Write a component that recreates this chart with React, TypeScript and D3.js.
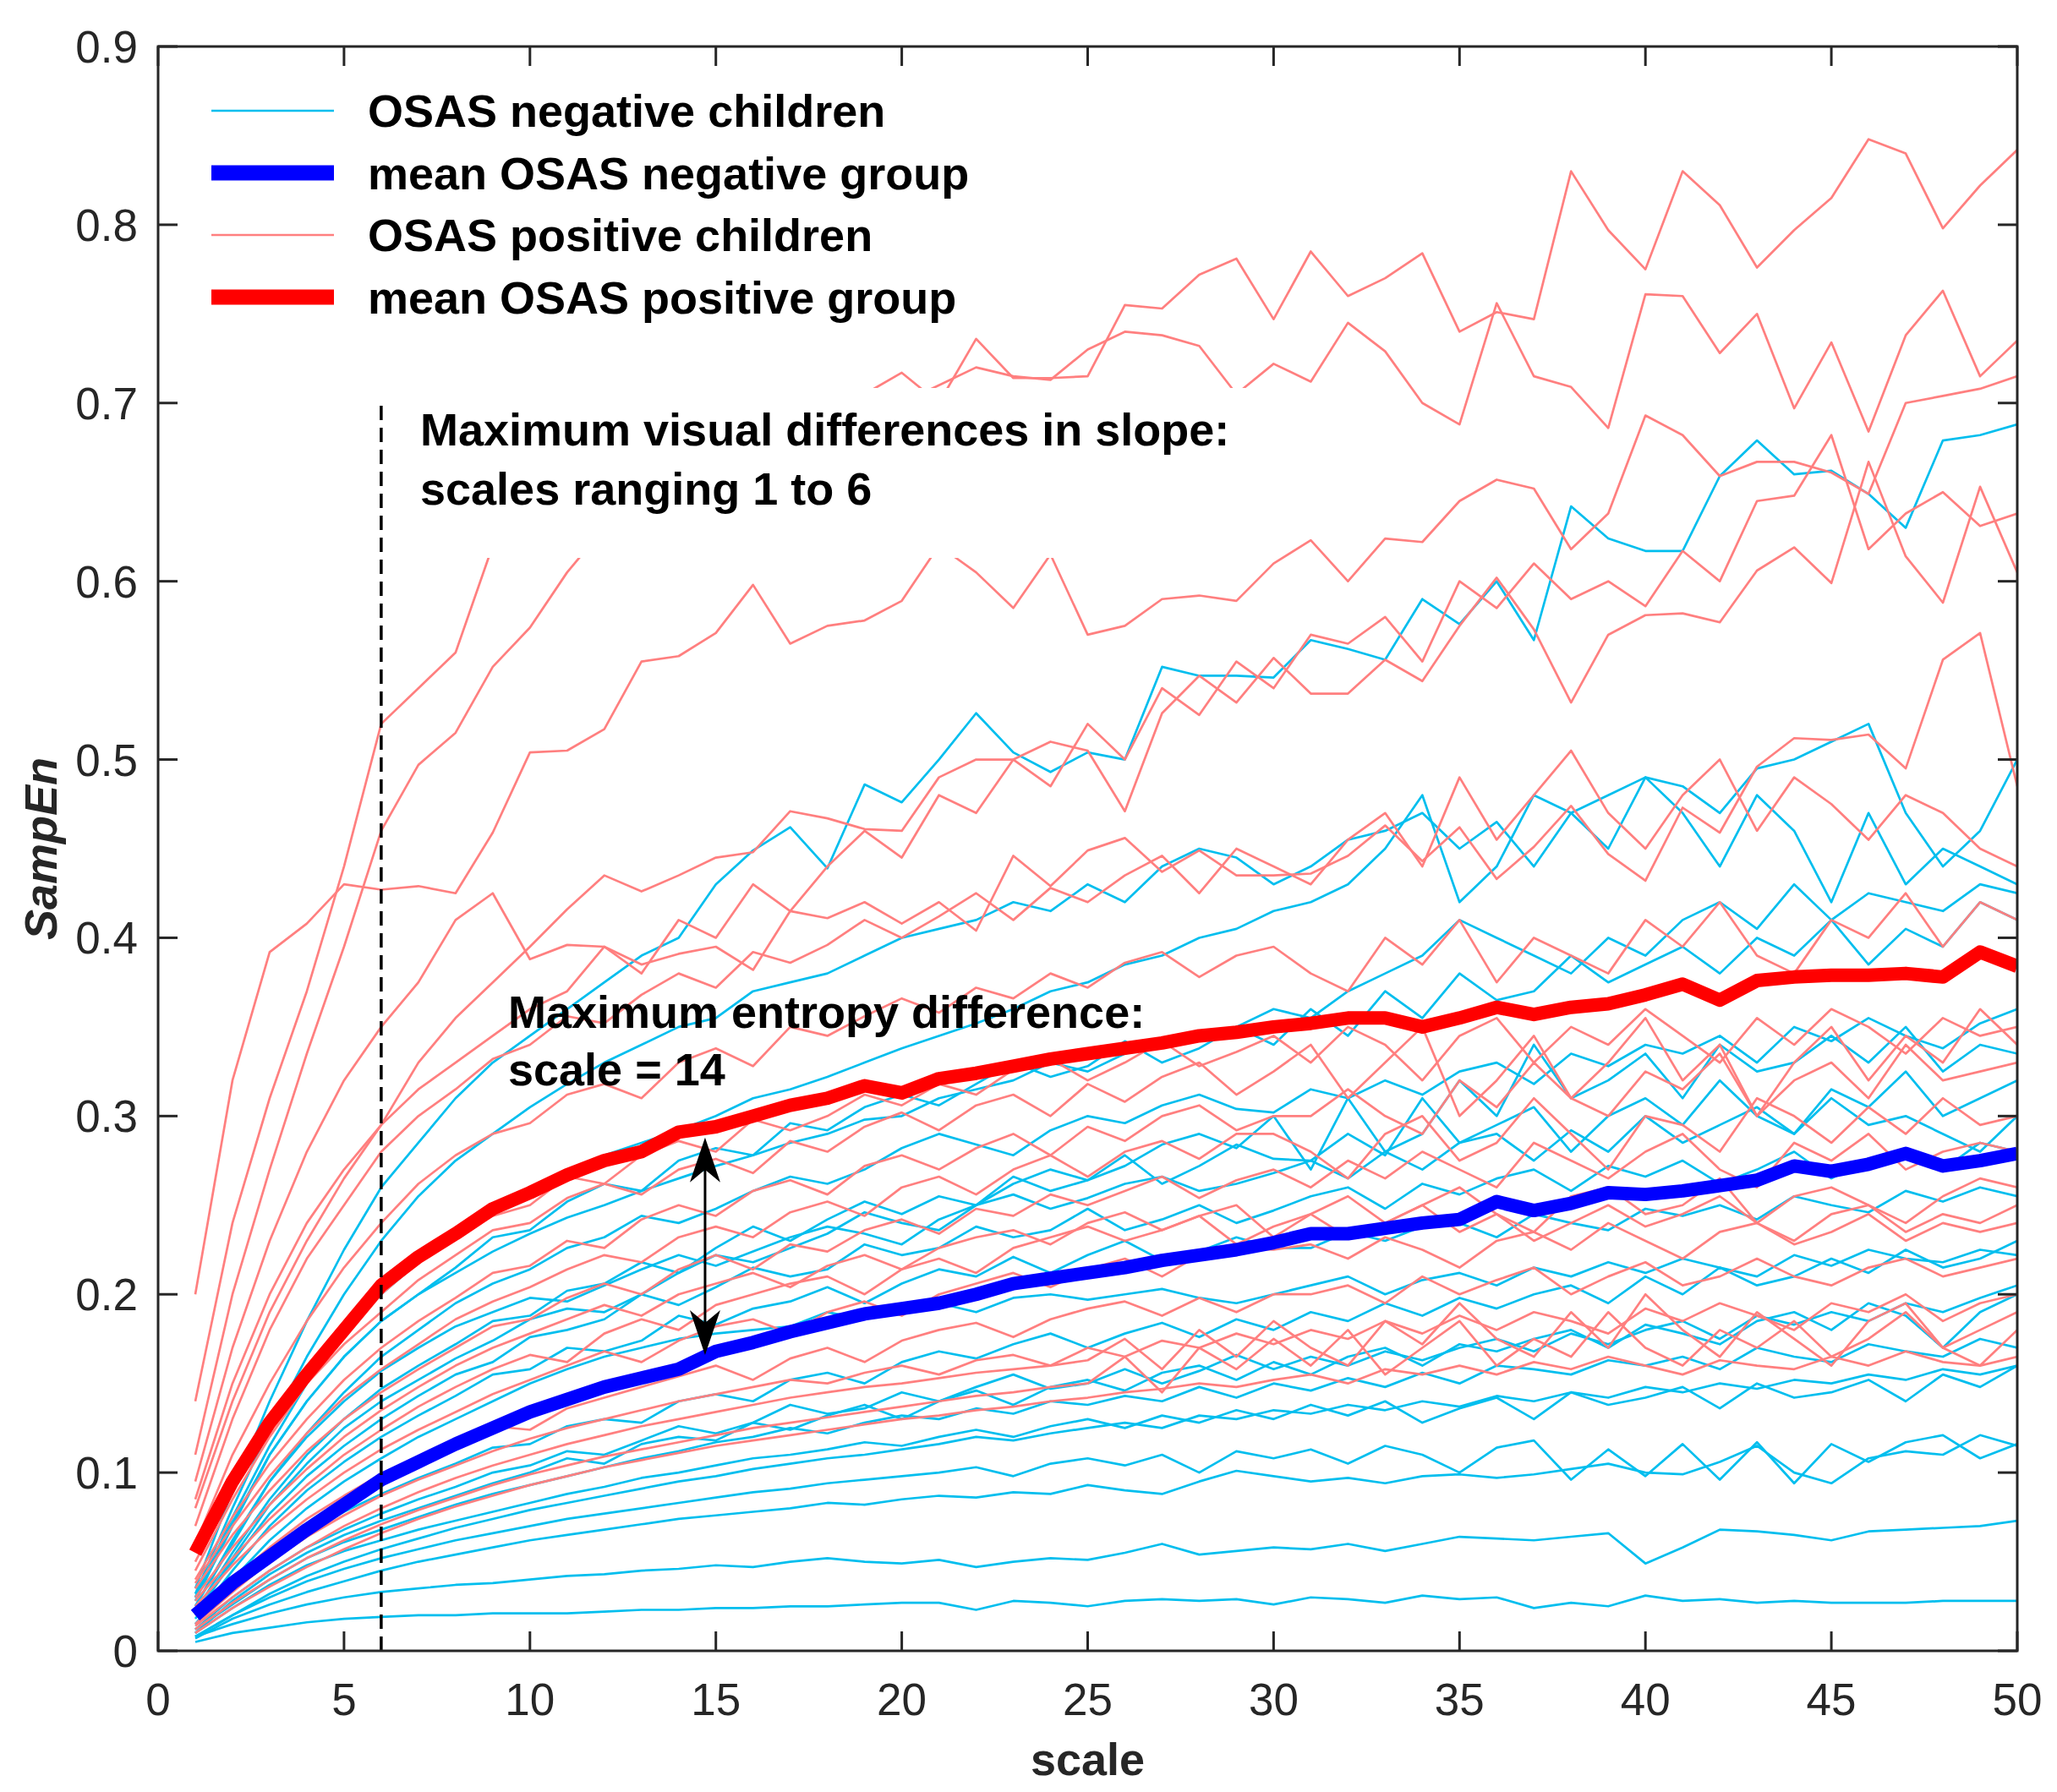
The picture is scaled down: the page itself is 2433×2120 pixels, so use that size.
import * as d3 from "d3";

// scales on the x axis
const scales = d3.range(1, 51);

// OSAS negative children (cyan)
const negChildren: number[][] = [
  [0.005,0.010,0.013,0.016,0.018,0.019,0.020,0.020,0.021,0.021,
   0.021,0.022,0.023,0.023,0.024,0.024,0.025,0.025,0.026,0.027,
   0.027,0.023,0.028,0.027,0.025,0.028,0.029,0.028,0.029,0.026,
   0.030,0.029,0.027,0.031,0.029,0.030,0.024,0.027,0.025,0.031,
   0.028,0.029,0.027,0.028,0.027,0.027,0.027,0.028,0.028,0.028],
  [0.008,0.015,0.021,0.026,0.030,0.033,0.035,0.037,0.038,0.040,
   0.042,0.043,0.045,0.046,0.048,0.047,0.050,0.052,0.050,0.049,
   0.051,0.047,0.050,0.052,0.051,0.055,0.060,0.054,0.056,0.058,
   0.057,0.060,0.056,0.060,0.064,0.063,0.062,0.064,0.066,0.049,
   0.058,0.068,0.067,0.065,0.062,0.067,0.068,0.069,0.070,0.073],
  [0.007,0.018,0.026,0.033,0.039,0.045,0.050,0.054,0.058,0.062,
   0.065,0.068,0.071,0.074,0.076,0.078,0.080,0.083,0.082,0.085,
   0.087,0.086,0.089,0.088,0.093,0.090,0.088,0.095,0.101,0.098,
   0.095,0.097,0.094,0.098,0.099,0.097,0.099,0.102,0.105,0.100,
   0.099,0.106,0.115,0.100,0.094,0.108,0.112,0.110,0.121,0.115],
  [0.008,0.020,0.030,0.039,0.046,0.052,0.057,0.062,0.066,0.070,
   0.074,0.077,0.080,0.083,0.086,0.089,0.091,0.094,0.096,0.098,
   0.100,0.103,0.098,0.105,0.108,0.104,0.110,0.100,0.112,0.108,
   0.113,0.105,0.115,0.110,0.100,0.114,0.118,0.096,0.113,0.098,
   0.116,0.096,0.117,0.094,0.116,0.106,0.117,0.121,0.108,0.116],
  [0.010,0.024,0.037,0.048,0.056,0.062,0.068,0.073,0.078,0.083,
   0.088,0.092,0.097,0.100,0.104,0.108,0.110,0.113,0.117,0.115,
   0.120,0.124,0.120,0.126,0.130,0.125,0.132,0.128,0.135,0.130,
   0.138,0.132,0.140,0.128,0.136,0.142,0.130,0.145,0.138,0.142,
   0.148,0.136,0.150,0.142,0.145,0.152,0.140,0.155,0.148,0.160],
  [0.012,0.026,0.040,0.052,0.061,0.068,0.075,0.082,0.088,0.093,
   0.098,0.103,0.108,0.112,0.117,0.120,0.125,0.122,0.128,0.132,
   0.130,0.136,0.133,0.140,0.138,0.143,0.140,0.148,0.142,0.150,
   0.146,0.153,0.148,0.156,0.150,0.160,0.158,0.155,0.163,0.160,
   0.165,0.158,0.170,0.165,0.162,0.172,0.168,0.165,0.175,0.170],
  [0.012,0.030,0.045,0.058,0.068,0.077,0.085,0.092,0.100,0.104,
   0.112,0.110,0.118,0.126,0.122,0.128,0.138,0.133,0.136,0.145,
   0.140,0.148,0.155,0.147,0.150,0.158,0.150,0.157,0.166,0.158,
   0.165,0.160,0.168,0.163,0.170,0.175,0.168,0.178,0.172,0.180,
   0.185,0.175,0.188,0.183,0.190,0.185,0.195,0.190,0.198,0.205],
  [0.015,0.040,0.062,0.080,0.095,0.108,0.120,0.130,0.140,0.150,
   0.158,0.165,0.170,0.175,0.178,0.180,0.182,0.190,0.186,0.192,
   0.195,0.190,0.198,0.200,0.197,0.200,0.203,0.198,0.195,0.200,
   0.205,0.210,0.200,0.208,0.212,0.205,0.215,0.210,0.218,0.212,
   0.220,0.215,0.210,0.222,0.216,0.225,0.220,0.218,0.225,0.222],
  [0.018,0.045,0.070,0.090,0.106,0.120,0.132,0.143,0.155,0.158,
   0.170,0.168,0.174,0.188,0.183,0.192,0.196,0.204,0.195,0.206,
   0.214,0.210,0.221,0.212,0.222,0.230,0.219,0.224,0.232,0.226,
   0.226,0.235,0.230,0.238,0.240,0.232,0.245,0.240,0.236,0.248,
   0.244,0.250,0.242,0.255,0.250,0.246,0.258,0.252,0.260,0.255],
  [0.020,0.050,0.077,0.098,0.115,0.130,0.143,0.155,0.162,0.176,
   0.180,0.186,0.200,0.194,0.204,0.215,0.210,0.214,0.228,0.222,
   0.226,0.238,0.232,0.236,0.248,0.236,0.242,0.250,0.240,0.247,
   0.255,0.260,0.248,0.262,0.256,0.265,0.270,0.258,0.272,0.266,
   0.275,0.262,0.270,0.280,0.265,0.275,0.282,0.270,0.285,0.280],
  [0.022,0.055,0.085,0.110,0.130,0.147,0.160,0.172,0.185,0.188,
   0.202,0.206,0.218,0.212,0.226,0.238,0.230,0.242,0.252,0.245,
   0.255,0.250,0.266,0.258,0.264,0.278,0.262,0.272,0.284,0.276,
   0.275,0.290,0.278,0.310,0.285,0.295,0.305,0.280,0.300,0.310,
   0.295,0.320,0.300,0.290,0.315,0.305,0.325,0.300,0.310,0.320],
  [0.025,0.060,0.095,0.122,0.145,0.165,0.180,0.195,0.206,0.214,
   0.226,0.232,0.244,0.240,0.248,0.258,0.266,0.262,0.270,0.282,
   0.290,0.284,0.278,0.292,0.300,0.296,0.306,0.312,0.304,0.302,
   0.315,0.310,0.320,0.312,0.325,0.330,0.318,0.335,0.328,0.340,
   0.335,0.345,0.330,0.350,0.342,0.355,0.345,0.338,0.352,0.360],
  [0.028,0.070,0.110,0.140,0.165,0.185,0.200,0.215,0.232,0.236,
   0.252,0.262,0.258,0.275,0.282,0.278,0.296,0.292,0.305,0.312,
   0.306,0.318,0.330,0.322,0.328,0.342,0.330,0.338,0.350,0.340,
   0.360,0.345,0.370,0.355,0.380,0.365,0.370,0.390,0.375,0.385,
   0.395,0.380,0.400,0.390,0.410,0.385,0.405,0.395,0.420,0.410],
  [0.030,0.075,0.115,0.150,0.178,0.200,0.218,0.232,0.245,0.258,
   0.268,0.278,0.285,0.292,0.300,0.310,0.315,0.322,0.330,0.338,
   0.345,0.352,0.360,0.370,0.375,0.385,0.390,0.400,0.405,0.415,
   0.420,0.430,0.450,0.480,0.420,0.440,0.480,0.470,0.450,0.490,
   0.470,0.440,0.480,0.460,0.420,0.470,0.430,0.450,0.440,0.430],
  [0.032,0.080,0.125,0.165,0.200,0.230,0.255,0.275,0.290,0.305,
   0.318,0.330,0.340,0.350,0.355,0.370,0.375,0.380,0.390,0.400,
   0.405,0.410,0.420,0.415,0.430,0.420,0.440,0.450,0.445,0.430,
   0.440,0.455,0.460,0.470,0.450,0.465,0.440,0.470,0.480,0.490,
   0.485,0.470,0.495,0.500,0.510,0.520,0.470,0.440,0.460,0.500],
  [0.035,0.090,0.140,0.185,0.225,0.260,0.285,0.310,0.330,0.345,
   0.360,0.375,0.390,0.400,0.430,0.449,0.462,0.439,0.486,0.476,
   0.500,0.526,0.504,0.493,0.504,0.500,0.552,0.547,0.547,0.546,
   0.567,0.562,0.556,0.590,0.576,0.600,0.567,0.642,0.624,0.617,
   0.617,0.659,0.679,0.660,0.662,0.649,0.630,0.679,0.682,0.688],
  [0.010,0.028,0.043,0.055,0.065,0.073,0.080,0.087,0.094,0.100,
   0.108,0.105,0.116,0.120,0.118,0.128,0.124,0.132,0.138,0.130,
   0.140,0.146,0.138,0.148,0.152,0.146,0.156,0.160,0.152,0.162,
   0.155,0.165,0.170,0.160,0.172,0.168,0.175,0.180,0.170,0.183,
   0.178,0.172,0.185,0.190,0.180,0.195,0.188,0.170,0.190,0.200],
  [0.025,0.062,0.095,0.120,0.140,0.157,0.170,0.182,0.190,0.198,
   0.196,0.205,0.214,0.222,0.216,0.224,0.232,0.238,0.234,0.228,
   0.242,0.250,0.256,0.248,0.254,0.262,0.266,0.258,0.262,0.268,
   0.275,0.265,0.280,0.270,0.285,0.290,0.275,0.292,0.280,0.300,
   0.285,0.295,0.305,0.290,0.310,0.295,0.300,0.290,0.280,0.300],
  [0.030,0.072,0.110,0.140,0.165,0.185,0.200,0.212,0.224,0.234,
   0.243,0.250,0.258,0.265,0.272,0.278,0.285,0.290,0.298,0.300,
   0.310,0.315,0.320,0.330,0.325,0.335,0.340,0.345,0.350,0.360,
   0.355,0.370,0.380,0.390,0.410,0.400,0.390,0.380,0.400,0.390,
   0.410,0.420,0.405,0.430,0.410,0.425,0.420,0.415,0.430,0.425],
  [0.020,0.052,0.082,0.105,0.125,0.140,0.152,0.164,0.174,0.186,
   0.192,0.190,0.200,0.212,0.222,0.218,0.226,0.234,0.246,0.240,
   0.236,0.250,0.262,0.270,0.264,0.272,0.284,0.290,0.282,0.300,
   0.270,0.310,0.280,0.290,0.320,0.300,0.340,0.310,0.320,0.335,
   0.310,0.340,0.325,0.330,0.345,0.330,0.350,0.325,0.340,0.335],
  [0.008,0.020,0.032,0.042,0.050,0.057,0.063,0.069,0.074,0.079,
   0.083,0.087,0.091,0.095,0.098,0.102,0.105,0.108,0.110,0.113,
   0.116,0.120,0.118,0.122,0.125,0.128,0.125,0.132,0.130,0.135,
   0.133,0.138,0.135,0.140,0.137,0.143,0.140,0.145,0.142,0.148,
   0.145,0.150,0.147,0.152,0.150,0.155,0.152,0.158,0.155,0.160],
  [0.015,0.035,0.052,0.066,0.078,0.088,0.097,0.105,0.114,0.116,
   0.126,0.130,0.128,0.140,0.144,0.140,0.152,0.156,0.150,0.162,
   0.168,0.164,0.172,0.178,0.170,0.178,0.184,0.176,0.186,0.180,
   0.190,0.185,0.195,0.188,0.198,0.192,0.200,0.205,0.195,0.210,
   0.200,0.215,0.205,0.210,0.220,0.212,0.225,0.215,0.220,0.230],
];

// OSAS positive children (salmon)
const posChildren: number[][] = [
  [0.200,0.320,0.392,0.408,0.430,0.427,0.429,0.425,0.459,0.504,
   0.505,0.517,0.555,0.558,0.571,0.598,0.565,0.575,0.578,0.589,
   0.620,0.605,0.585,0.615,0.570,0.575,0.590,0.592,0.589,0.610,
   0.623,0.600,0.624,0.622,0.645,0.657,0.652,0.618,0.638,0.693,
   0.682,0.659,0.667,0.667,0.661,0.649,0.700,0.704,0.708,0.715],
  [0.140,0.240,0.310,0.370,0.440,0.520,0.540,0.560,0.620,0.650,
   0.670,0.690,0.700,0.710,0.720,0.720,0.730,0.720,0.705,0.717,
   0.700,0.736,0.714,0.714,0.715,0.755,0.753,0.772,0.781,0.747,
   0.785,0.760,0.770,0.784,0.740,0.751,0.747,0.830,0.797,0.775,
   0.830,0.811,0.776,0.797,0.815,0.848,0.840,0.798,0.822,0.842],
  [0.110,0.200,0.270,0.335,0.395,0.460,0.497,0.515,0.552,0.574,
   0.605,0.630,0.650,0.660,0.665,0.670,0.680,0.685,0.690,0.700,
   0.710,0.720,0.715,0.713,0.730,0.740,0.738,0.732,0.705,0.722,
   0.712,0.745,0.729,0.700,0.688,0.756,0.715,0.709,0.686,0.761,
   0.760,0.728,0.750,0.697,0.734,0.684,0.738,0.763,0.715,0.735],
  [0.085,0.150,0.200,0.240,0.270,0.295,0.315,0.330,0.345,0.360,
   0.370,0.395,0.380,0.410,0.400,0.430,0.415,0.440,0.460,0.445,
   0.480,0.470,0.500,0.485,0.520,0.500,0.540,0.525,0.555,0.540,
   0.570,0.565,0.580,0.555,0.600,0.585,0.610,0.590,0.600,0.586,
   0.617,0.600,0.645,0.648,0.682,0.618,0.638,0.650,0.631,0.638],
  [0.095,0.170,0.230,0.280,0.320,0.350,0.375,0.410,0.425,0.388,
   0.396,0.395,0.385,0.391,0.395,0.382,0.415,0.411,0.420,0.408,
   0.420,0.404,0.446,0.429,0.449,0.456,0.437,0.449,0.435,0.435,
   0.436,0.446,0.463,0.443,0.462,0.433,0.451,0.474,0.447,0.432,
   0.473,0.459,0.496,0.512,0.511,0.514,0.495,0.556,0.571,0.485],
  [0.080,0.140,0.190,0.230,0.265,0.295,0.330,0.355,0.375,0.395,
   0.416,0.435,0.426,0.435,0.445,0.448,0.471,0.467,0.461,0.460,
   0.490,0.500,0.500,0.510,0.505,0.471,0.526,0.547,0.532,0.557,
   0.537,0.537,0.556,0.544,0.575,0.602,0.573,0.532,0.570,0.581,
   0.582,0.577,0.606,0.619,0.599,0.667,0.614,0.588,0.653,0.605],
  [0.070,0.130,0.180,0.220,0.250,0.280,0.300,0.315,0.332,0.340,
   0.356,0.352,0.368,0.380,0.372,0.392,0.386,0.396,0.410,0.400,
   0.412,0.425,0.410,0.428,0.420,0.435,0.446,0.425,0.450,0.440,
   0.430,0.455,0.470,0.440,0.490,0.455,0.480,0.505,0.470,0.450,
   0.480,0.500,0.460,0.490,0.475,0.455,0.480,0.470,0.450,0.440],
  [0.060,0.110,0.150,0.185,0.215,0.240,0.262,0.278,0.290,0.296,
   0.312,0.318,0.310,0.330,0.338,0.328,0.350,0.345,0.356,0.366,
   0.358,0.372,0.366,0.380,0.372,0.386,0.392,0.378,0.390,0.395,
   0.380,0.370,0.400,0.385,0.410,0.375,0.400,0.390,0.380,0.410,
   0.395,0.420,0.390,0.380,0.410,0.400,0.425,0.395,0.420,0.410],
  [0.050,0.090,0.125,0.155,0.180,0.200,0.218,0.232,0.244,0.250,
   0.266,0.262,0.278,0.286,0.280,0.298,0.292,0.300,0.312,0.306,
   0.318,0.312,0.326,0.332,0.320,0.330,0.342,0.328,0.336,0.345,
   0.330,0.350,0.340,0.320,0.345,0.355,0.330,0.350,0.340,0.360,
   0.345,0.330,0.355,0.340,0.360,0.350,0.335,0.355,0.345,0.350],
  [0.045,0.085,0.120,0.150,0.172,0.190,0.208,0.222,0.236,0.240,
   0.254,0.262,0.256,0.270,0.276,0.268,0.286,0.280,0.294,0.302,
   0.292,0.306,0.312,0.300,0.318,0.308,0.322,0.330,0.312,0.325,
   0.340,0.310,0.330,0.350,0.300,0.320,0.345,0.310,0.330,0.355,
   0.320,0.340,0.300,0.330,0.350,0.320,0.345,0.330,0.360,0.340],
  [0.040,0.075,0.105,0.130,0.152,0.170,0.185,0.198,0.212,0.216,
   0.230,0.226,0.242,0.250,0.244,0.258,0.264,0.256,0.272,0.278,
   0.270,0.282,0.290,0.278,0.294,0.286,0.300,0.306,0.292,0.300,
   0.300,0.315,0.300,0.290,0.320,0.305,0.330,0.310,0.300,0.325,
   0.315,0.335,0.300,0.320,0.330,0.310,0.340,0.320,0.325,0.330],
  [0.038,0.070,0.098,0.122,0.142,0.158,0.172,0.186,0.196,0.204,
   0.214,0.222,0.218,0.232,0.238,0.232,0.246,0.252,0.244,0.260,
   0.266,0.256,0.270,0.278,0.266,0.280,0.286,0.276,0.290,0.290,
   0.280,0.265,0.290,0.300,0.275,0.285,0.310,0.290,0.270,0.300,
   0.295,0.280,0.310,0.300,0.285,0.305,0.290,0.310,0.295,0.300],
  [0.035,0.065,0.090,0.112,0.130,0.145,0.158,0.170,0.182,0.186,
   0.198,0.206,0.200,0.214,0.222,0.214,0.228,0.224,0.236,0.242,
   0.234,0.248,0.244,0.256,0.250,0.258,0.266,0.254,0.264,0.270,
   0.260,0.275,0.265,0.280,0.270,0.260,0.285,0.275,0.265,0.280,
   0.290,0.270,0.260,0.285,0.275,0.290,0.270,0.280,0.285,0.280],
  [0.030,0.058,0.082,0.102,0.120,0.135,0.148,0.160,0.170,0.178,
   0.186,0.194,0.188,0.200,0.206,0.212,0.204,0.216,0.222,0.214,
   0.226,0.232,0.236,0.228,0.240,0.246,0.236,0.244,0.250,0.232,
   0.245,0.255,0.240,0.250,0.260,0.245,0.235,0.255,0.260,0.245,
   0.250,0.265,0.240,0.255,0.260,0.250,0.240,0.255,0.265,0.260],
  [0.028,0.052,0.074,0.093,0.110,0.124,0.137,0.148,0.158,0.166,
   0.162,0.178,0.186,0.180,0.194,0.200,0.206,0.210,0.200,0.214,
   0.220,0.212,0.226,0.232,0.238,0.230,0.236,0.244,0.228,0.238,
   0.245,0.232,0.240,0.250,0.235,0.245,0.230,0.240,0.250,0.238,
   0.245,0.255,0.240,0.230,0.245,0.250,0.235,0.245,0.240,0.250],
  [0.025,0.048,0.068,0.085,0.100,0.113,0.124,0.134,0.144,0.152,
   0.160,0.168,0.162,0.174,0.182,0.186,0.178,0.190,0.196,0.188,
   0.200,0.206,0.212,0.204,0.214,0.220,0.210,0.222,0.226,0.225,
   0.228,0.220,0.232,0.225,0.215,0.230,0.235,0.225,0.240,0.230,
   0.220,0.235,0.240,0.228,0.235,0.245,0.230,0.240,0.235,0.240],
  [0.020,0.040,0.058,0.074,0.087,0.099,0.109,0.118,0.126,0.124,
   0.136,0.142,0.148,0.154,0.160,0.152,0.164,0.170,0.162,0.174,
   0.180,0.184,0.176,0.186,0.192,0.196,0.188,0.198,0.190,0.200,
   0.200,0.205,0.195,0.210,0.200,0.208,0.215,0.200,0.210,0.218,
   0.205,0.210,0.220,0.210,0.205,0.215,0.220,0.210,0.215,0.220],
  [0.015,0.033,0.050,0.064,0.076,0.087,0.096,0.104,0.112,0.119,
   0.125,0.130,0.135,0.140,0.144,0.148,0.152,0.150,0.156,0.160,
   0.155,0.163,0.166,0.160,0.170,0.165,0.174,0.170,0.178,0.172,
   0.180,0.175,0.185,0.178,0.188,0.180,0.190,0.185,0.178,0.192,
   0.185,0.195,0.188,0.180,0.195,0.190,0.200,0.185,0.195,0.200],
  [0.014,0.030,0.045,0.058,0.070,0.080,0.089,0.097,0.104,0.110,
   0.116,0.121,0.126,0.130,0.134,0.138,0.142,0.145,0.148,0.150,
   0.153,0.156,0.158,0.160,0.163,0.175,0.158,0.180,0.165,0.185,
   0.170,0.160,0.185,0.172,0.195,0.175,0.165,0.190,0.170,0.200,
   0.180,0.165,0.190,0.175,0.160,0.185,0.195,0.170,0.180,0.190],
  [0.012,0.027,0.040,0.052,0.062,0.071,0.079,0.086,0.093,0.099,
   0.104,0.109,0.113,0.117,0.121,0.125,0.128,0.131,0.134,0.137,
   0.140,0.143,0.145,0.148,0.150,0.165,0.145,0.170,0.158,0.175,
   0.160,0.180,0.155,0.170,0.185,0.160,0.175,0.165,0.190,0.170,
   0.160,0.180,0.170,0.185,0.165,0.175,0.190,0.170,0.160,0.180],
  [0.010,0.024,0.036,0.047,0.057,0.066,0.074,0.081,0.087,0.093,
   0.098,0.103,0.107,0.111,0.115,0.118,0.121,0.124,0.127,0.130,
   0.132,0.135,0.137,0.140,0.142,0.145,0.147,0.150,0.148,0.152,
   0.155,0.150,0.158,0.155,0.160,0.155,0.162,0.158,0.165,0.160,
   0.155,0.163,0.160,0.158,0.165,0.160,0.168,0.162,0.160,0.165],
];

// group means
const meanNegative = [
  0.020,0.038,0.053,0.068,0.082,0.096,0.106,0.116,0.125,0.134,
  0.141,0.148,0.153,0.158,0.168,0.173,0.179,0.184,0.189,0.192,
  0.195,0.200,0.206,0.209,0.212,0.215,0.219,0.222,0.225,0.229,
  0.234,0.234,0.237,0.240,0.242,0.252,0.247,0.251,0.257,0.256,
  0.258,0.261,0.264,0.272,0.269,0.273,0.279,0.272,0.275,0.279,
];
const meanPositive = [
  0.055,0.095,0.128,0.155,0.180,0.205,0.221,0.234,0.248,0.257,
  0.267,0.275,0.280,0.291,0.294,0.300,0.306,0.310,0.317,0.313,
  0.321,0.324,0.328,0.332,0.335,0.338,0.341,0.345,0.347,0.350,
  0.352,0.355,0.355,0.350,0.355,0.361,0.357,0.361,0.363,0.368,
  0.374,0.365,0.376,0.378,0.379,0.379,0.380,0.378,0.392,0.384,
];

const xTicks = [0, 5, 10, 15, 20, 25, 30, 35, 40, 45, 50];
const yTicks = [0, 0.1, 0.2, 0.3, 0.4, 0.5, 0.6, 0.7, 0.8, 0.9];

const legendItems = [
  { label: "OSAS negative children", color: "#00BEEE", width: 2.5 },
  { label: "mean OSAS negative group", color: "#0000FF", width: 18 },
  { label: "OSAS positive children", color: "#FF7F7F", width: 2.5 },
  { label: "mean OSAS positive group", color: "#FF0000", width: 18 },
];

const CYAN = "#00BEEE";
const SALMON = "#FF7F7F";
const AXIS = "#262626";
const FONT = "'Liberation Sans', Arial, Helvetica, sans-serif";

export default function App() {
  const width = 2433;
  const height = 2120;
  const left = 187, right = 2386, top = 55, bottom = 1953;

  const x = d3.scaleLinear().domain([0, 50]).range([left, right]);
  const y = d3.scaleLinear().domain([0, 0.9]).range([bottom, top]);

  const line = d3
    .line<number>()
    .x((_, i) => x(scales[i]))
    .y((d) => y(d));

  const tick = 23;

  // arrow between the two means at scale ~14.7
  const ax = x(14.71);
  const aTop = y(0.288);
  const aBot = y(0.166);
  const headLen = 53;
  const headHalf = 18;
  const notch = 38;

  return (
    <svg
      width={width}
      height={height}
      style={{ position: "absolute", left: 0, top: 0, background: "#fff" }}
      fontFamily={FONT}
    >
      <defs>
        <clipPath id="plot-clip">
          <rect x={left} y={top} width={right - left} height={bottom - top} />
        </clipPath>
      </defs>
      <rect x={0} y={0} width={width} height={height} fill="#fff" />

      <g clipPath="url(#plot-clip)" fill="none" strokeLinejoin="round">
        {negChildren.map((s, i) => (
          <path key={`n${i}`} d={line(s) || ""} stroke={CYAN} strokeWidth={2.7} />
        ))}
        {posChildren.map((s, i) => (
          <path key={`p${i}`} d={line(s) || ""} stroke={SALMON} strokeWidth={2.7} />
        ))}
        <path d={line(meanNegative) || ""} stroke="#0000FF" strokeWidth={16} />
        <path d={line(meanPositive) || ""} stroke="#FF0000" strokeWidth={16} />
      </g>

      {/* white backgrounds of legend and first annotation */}
      <rect x={left} y={top} width={1015 - left} height={459 - top} fill="#fff" />
      <rect x={470} y={459} width={1484 - 470} height={660 - 459} fill="#fff" />

      {/* legend */}
      {legendItems.map((item, i) => {
        const ly = 131 + i * 73.5;
        return (
          <g key={item.label}>
            <line x1={250} x2={395} y1={ly} y2={ly} stroke={item.color} strokeWidth={item.width} />
            <text x={435} y={ly + 19} fontSize={54} fontWeight="bold" fill="#000">
              {item.label}
            </text>
          </g>
        );
      })}

      {/* annotations */}
      <text x={497} y={527} fontSize={54} fontWeight="bold" fill="#000">
        Maximum visual differences in slope:
      </text>
      <text x={497} y={597} fontSize={54} fontWeight="bold" fill="#000">
        scales ranging 1 to 6
      </text>
      <text x={601} y={1216} fontSize={54} fontWeight="bold" fill="#000">
        Maximum entropy difference:
      </text>
      <text x={601} y={1284} fontSize={54} fontWeight="bold" fill="#000">
        scale = 14
      </text>

      {/* dashed marker at scale 6 */}
      <line
        x1={x(6)}
        x2={x(6)}
        y1={y(0)}
        y2={y(0.7)}
        stroke="#000"
        strokeWidth={3.5}
        strokeDasharray="17 9"
      />

      {/* double arrow */}
      <line x1={ax} x2={ax} y1={aTop + 20} y2={aBot - 20} stroke="#000" strokeWidth={3} />
      <path
        d={`M${ax},${aTop} L${ax - headHalf},${aTop + headLen} L${ax},${aTop + notch} L${ax + headHalf},${aTop + headLen} Z`}
        fill="#000"
      />
      <path
        d={`M${ax},${aBot} L${ax - headHalf},${aBot - headLen} L${ax},${aBot - notch} L${ax + headHalf},${aBot - headLen} Z`}
        fill="#000"
      />

      {/* axes box and ticks */}
      <g stroke={AXIS} strokeWidth={3} fill="none">
        <rect x={left} y={top} width={right - left} height={bottom - top} />
        {xTicks.map((t) => (
          <g key={`xt${t}`}>
            <line x1={x(t)} x2={x(t)} y1={bottom} y2={bottom - tick} />
            <line x1={x(t)} x2={x(t)} y1={top} y2={top + tick} />
          </g>
        ))}
        {yTicks.map((t) => (
          <g key={`yt${t}`}>
            <line x1={left} x2={left + tick} y1={y(t)} y2={y(t)} />
            <line x1={right} x2={right - tick} y1={y(t)} y2={y(t)} />
          </g>
        ))}
      </g>

      {xTicks.map((t) => (
        <text key={`xl${t}`} x={x(t)} y={2029} fontSize={53} textAnchor="middle" fill={AXIS}>
          {t}
        </text>
      ))}
      {yTicks.map((t) => (
        <text key={`yl${t}`} x={163} y={y(t) + 19} fontSize={53} textAnchor="end" fill={AXIS}>
          {t === 0 ? "0" : d3.format(".1f")(t)}
        </text>
      ))}

      <text x={(left + right) / 2} y={2100} fontSize={54} fontWeight="bold" textAnchor="middle" fill={AXIS}>
        scale
      </text>
      <text
        transform={`translate(67, ${(top + bottom) / 2}) rotate(-90)`}
        fontSize={54}
        fontWeight="bold"
        fontStyle="italic"
        textAnchor="middle"
        fill={AXIS}
      >
        SampEn
      </text>
    </svg>
  );
}
